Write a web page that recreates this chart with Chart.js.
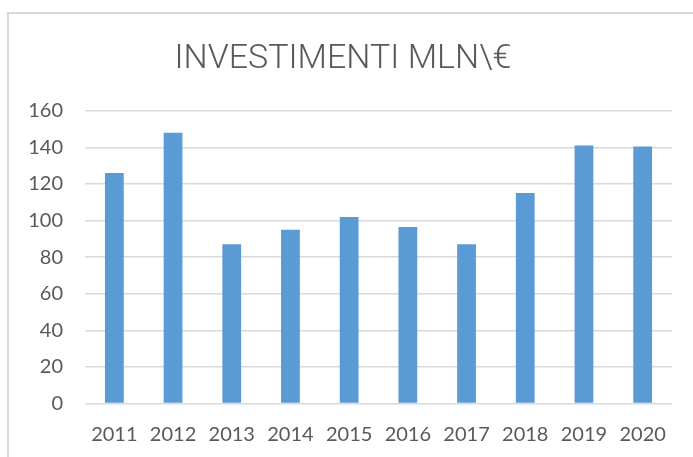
<!DOCTYPE html>
<html>
<head>
<meta charset="utf-8">
<script src="https://cdn.jsdelivr.net/npm/chart.js@4"></script>
<style>
  html, body { margin: 0; padding: 0; background: #fff; }
  #wrap { position: relative; width: 693px; height: 457px; overflow: hidden; }
  #frame { position: absolute; left: 7px; top: 12px; right: -5px; bottom: -5px;
           border-left: 2px solid #d9d9d9; border-top: 2px solid #d9d9d9; pointer-events: none; }
  canvas { position: absolute; left: 0; top: 0; }
</style>
</head>
<body>
<div id="wrap">
  <canvas id="chart" width="693" height="457"></canvas>
  <div id="frame"></div>
</div>
<script>
const years = ['2011', '2012', '2013', '2014', '2015', '2016', '2017', '2018', '2019', '2020']
const investimenti = [126, 148, 87, 95, 102, 96.5, 87, 115, 141, 140.5]
const titleText = 'INVESTIMENTI MLN\\€'

const textColor = '#595959'
const gridColor = '#d9d9d9'

const chart = new Chart(document.getElementById('chart').getContext('2d'), {
  type: 'bar',
  data: {
    labels: years,
    datasets: [
      {
        label: 'Investimenti',
        data: investimenti,
        backgroundColor: '#5b9bd5',
        barPercentage: 0.32,
        categoryPercentage: 1
      }
    ]
  },
  options: {
    responsive: false,
    animation: false,
    layout: {
      padding: { left: 14, right: 21, top: 0, bottom: 0 }
    },
    plugins: {
      legend: { display: false },
      tooltip: { enabled: false },
      title: {
        display: true,
        text: titleText,
        color: textColor,
        font: { family: 'Roboto', size: 34, weight: '300' },
        padding: { top: 39, bottom: 31 }
      }
    },
    scales: {
      x: {
        grid: { display: false, drawTicks: false },
        border: { display: false },
        ticks: {
          color: textColor,
          font: { family: 'Lato', size: 20 },
          padding: 19,
          maxRotation: 0
        },
        afterFit: (scale) => { scale.height = 53.5 }
      },
      y: {
        min: 0,
        max: 160,
        grid: { color: gridColor, lineWidth: 1.5, drawTicks: false },
        border: { display: false },
        ticks: {
          stepSize: 20,
          color: textColor,
          font: { family: 'Lato', size: 20 },
          padding: 22
        },
        afterFit: (scale) => { scale.width = 71 }
      }
    }
  }
})
</script>
</body>
</html>
